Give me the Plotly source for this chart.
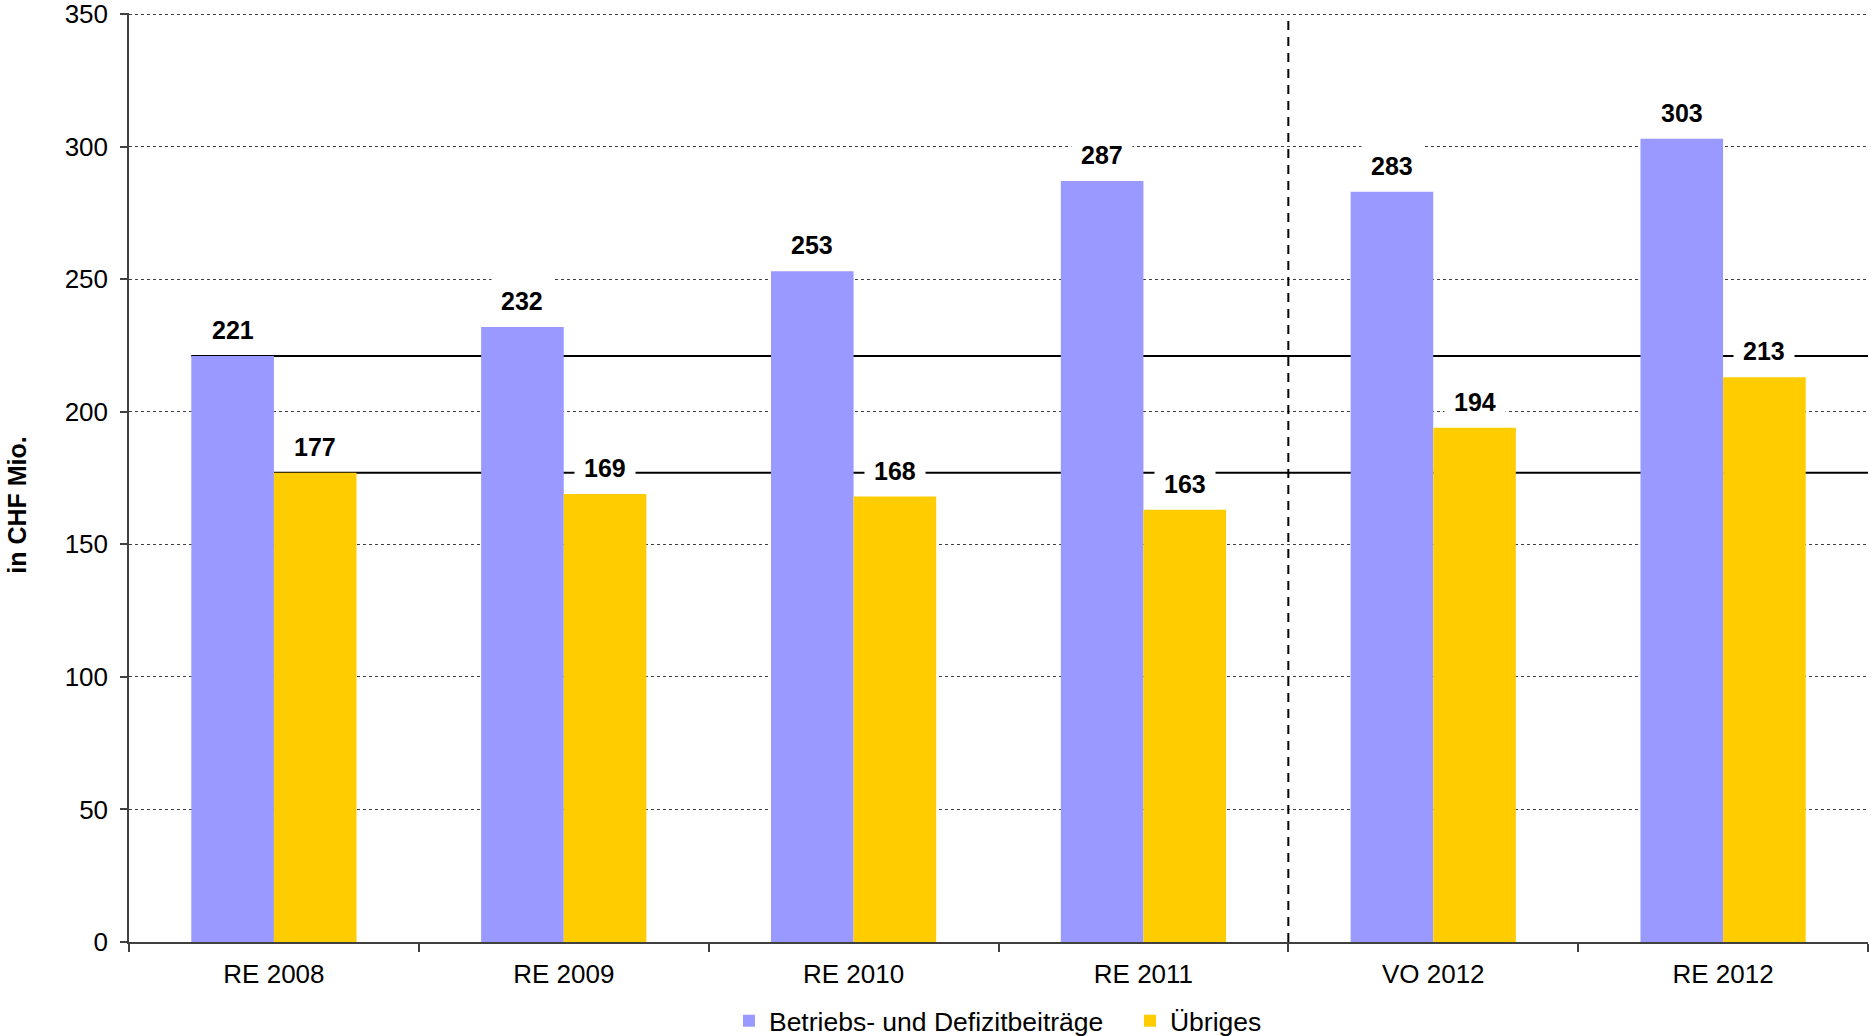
import plotly.graph_objects as go

# Jahreswerte in CHF Mio.
kategorien = ["RE 2008", "RE 2009", "RE 2010", "RE 2011", "VO 2012", "RE 2012"]
betriebsbeitraege = [221, 232, 253, 287, 283, 303]
uebriges = [177, 169, 168, 163, 194, 213]
y_ticks = [0, 50, 100, 150, 200, 250, 300, 350]

FONT = "Liberation Sans, Arial, sans-serif"
BLAU = "#9999FF"
GELB = "#FFCC00"
BARGAP = 0.43
bar_w = (1 - BARGAP) / 2
y_max = y_ticks[-1] + 0.4  # etwas Luft, damit die oberste Gitterlinie sichtbar bleibt

fig = go.Figure()
fig.add_trace(go.Bar(x=kategorien, y=betriebsbeitraege, name="Betriebs- und Defizitbeiträge",
                     marker=dict(color=BLAU, line=dict(width=0))))
fig.add_trace(go.Bar(x=kategorien, y=uebriges, name="Übriges",
                     marker=dict(color=GELB, line=dict(width=0))))

shapes = []
# Basislinien auf Höhe der Werte 2008, ab dem jeweiligen Balken bis zum rechten Rand
shapes.append(dict(type="line", xref="x", yref="y", layer="between",
                   x0=-bar_w, x1=len(kategorien) - 0.5,
                   y0=betriebsbeitraege[0], y1=betriebsbeitraege[0],
                   line=dict(color="black", width=2)))
shapes.append(dict(type="line", xref="x", yref="y", layer="between",
                   x0=0, x1=len(kategorien) - 0.5,
                   y0=uebriges[0], y1=uebriges[0],
                   line=dict(color="black", width=2)))
# Trennlinie zwischen Rechnung und Voranschlag
shapes.append(dict(type="line", xref="x", yref="y", layer="above",
                   x0=3.5, x1=3.5, y0=0, y1=y_ticks[-1],
                   line=dict(color="black", width=2, dash="9px,7px")))

annotations = []
for i, (b, u) in enumerate(zip(betriebsbeitraege, uebriges)):
    for x, v in ((i - bar_w / 2, b), (i + bar_w / 2, u)):
        annotations.append(dict(x=x, y=v, xref="x", yref="y", text=f"<b>{v}</b>",
                                showarrow=False, yanchor="middle", yshift=26,
                                bgcolor="white", borderpad=9,
                                font=dict(family=FONT, size=25, color="black")))

annotations.append(dict(x=-0.0642, y=0.47, xref="paper", yref="paper",
                        text="<b>in CHF Mio.</b>", textangle=-90, showarrow=False,
                        xanchor="center", yanchor="middle",
                        font=dict(family=FONT, size=25, color="black")))

fig.update_layout(
    width=1871, height=1036,
    margin=dict(l=129, r=3, t=13, b=94, autoexpand=False),
    paper_bgcolor="white", plot_bgcolor="white",
    barmode="group", bargap=BARGAP, bargroupgap=0,
    font=dict(family=FONT, size=26, color="black"),
    shapes=shapes, annotations=annotations,
    showlegend=True,
    legend=dict(orientation="h", x=0.345, xanchor="left",
                yref="container", y=1 - 1021 / 1036, yanchor="middle",
                font=dict(family=FONT, size=26.5, color="black"),
                itemwidth=30, entrywidth=356, entrywidthmode="pixels",
                traceorder="normal", bgcolor="rgba(0,0,0,0)"),
)
fig.update_xaxes(type="category", range=[-0.5, len(kategorien) - 0.5], automargin=False,
                 showline=True, linecolor="#404040", linewidth=1.5,
                 ticks="outside", tickson="boundaries", ticklen=8, tickcolor="#404040",
                 tickwidth=1.5, showgrid=False, tickfont=dict(size=26), ticklabelstandoff=8)
fig.update_yaxes(range=[0, y_max], tickvals=y_ticks, automargin=False,
                 showline=True, linecolor="#404040", linewidth=1.5,
                 ticks="outside", ticklen=7, tickcolor="#404040", tickwidth=1.5,
                 showgrid=True, gridcolor="#404040", gridwidth=1, griddash="dot",
                 zeroline=False, tickfont=dict(size=26), ticklabelstandoff=7,
                 ticklabeloverflow="allow")

fig.write_html("out.html")
